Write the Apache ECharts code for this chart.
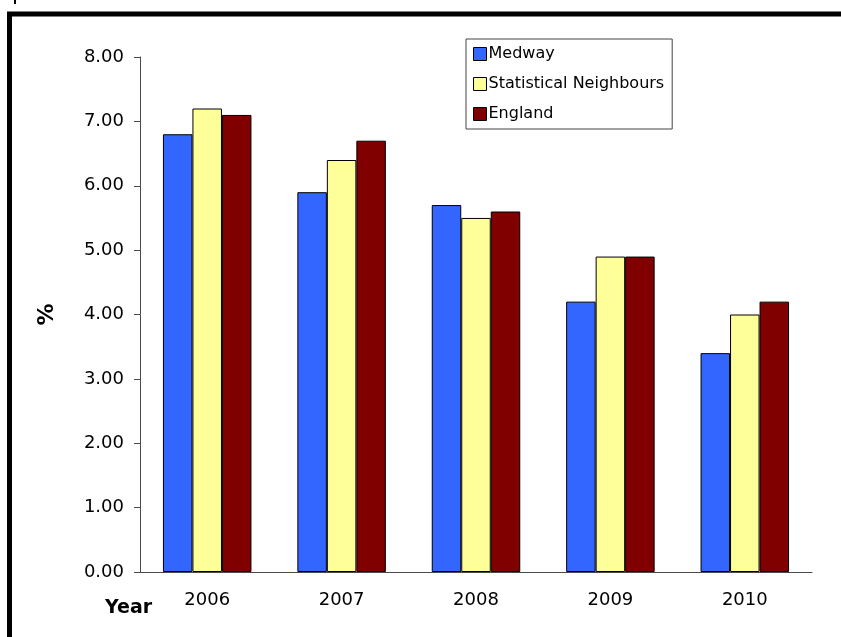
<!DOCTYPE html>
<html>
<head>
<meta charset="utf-8">
<script src="https://cdn.jsdelivr.net/npm/echarts@6/dist/echarts.min.js"></script>
<style>
  html, body { margin: 0; padding: 0; background: #fff; }
  #chart { width: 841px; height: 637px; }
</style>
</head>
<body>
<div id="chart"></div>
<script>
const years = ['2006', '2007', '2008', '2009', '2010']
const medway = [6.8, 5.9, 5.7, 4.2, 3.4]
const neighbours = [7.2, 6.4, 5.5, 4.9, 4.0]
const england = [7.1, 6.7, 5.6, 4.9, 4.2]

const font = 'DejaVu Sans, Arial, sans-serif'
const axisColor = '#4a4a4a'

const barStyle = (color) => ({
  color,
  borderColor: '#000',
  borderWidth: 1
})

const chart = echarts.init(document.getElementById('chart'))
chart.setOption({
  animation: false,
  grid: { left: 140, right: 29, top: 57, bottom: 65 },
  legend: {
    orient: 'vertical',
    left: 466,
    top: 39,
    width: 217,
    padding: [7, 8, 7, 7],
    itemGap: 14,
    itemWidth: 13,
    itemHeight: 13,
    icon: 'rect',
    borderColor: '#444',
    borderWidth: 1,
    textStyle: { fontFamily: font, fontSize: 16, color: '#000', padding: [0, 0, 0, -3] },
    data: [
      { name: 'Medway', itemStyle: barStyle('#3366ff') },
      { name: 'Statistical Neighbours', itemStyle: barStyle('#ffff99') },
      { name: 'England', itemStyle: barStyle('#800000') }
    ]
  },
  xAxis: {
    type: 'category',
    data: years,
    axisLine: { lineStyle: { color: axisColor } },
    axisTick: { length: 6, lineStyle: { color: axisColor } },
    axisLabel: { fontFamily: font, fontSize: 18, color: '#000', margin: 19 }
  },
  yAxis: {
    type: 'value',
    min: 0,
    max: 8,
    interval: 1,
    name: '%',
    nameLocation: 'middle',
    nameRotate: 90,
    nameGap: 82,
    nameTextStyle: { fontFamily: font, fontSize: 22, fontWeight: 'bold', color: '#000' },
    axisLine: { show: true, lineStyle: { color: axisColor } },
    axisTick: { show: true, length: 6, lineStyle: { color: axisColor } },
    splitLine: { show: false },
    axisLabel: {
      fontFamily: font, fontSize: 18, color: '#000', margin: 16,
      formatter: (v) => v.toFixed(2)
    }
  },
  series: [
    { name: 'Medway', type: 'bar', data: medway, barWidth: 29.5, barGap: '0%', itemStyle: barStyle('#3366ff') },
    { name: 'Statistical Neighbours', type: 'bar', data: neighbours, barWidth: 29.5, barGap: '0%', itemStyle: barStyle('#ffff99') },
    { name: 'England', type: 'bar', data: england, barWidth: 29.5, barGap: '0%', itemStyle: barStyle('#800000') }
  ],
  graphic: [
    {
      type: 'rect',
      shape: { x: 9.5, y: 14, width: 900, height: 700 },
      style: { fill: null, stroke: '#000', lineWidth: 5 },
      silent: true
    },
    {
      type: 'rect',
      shape: { x: 14, y: 0, width: 2, height: 4 },
      style: { fill: '#000' },
      silent: true
    },
    {
      type: 'text',
      left: 105,
      top: 599,
      style: { text: 'Year', font: 'bold 19px ' + font, fill: '#000' }
    }
  ]
})
</script>
</body>
</html>
